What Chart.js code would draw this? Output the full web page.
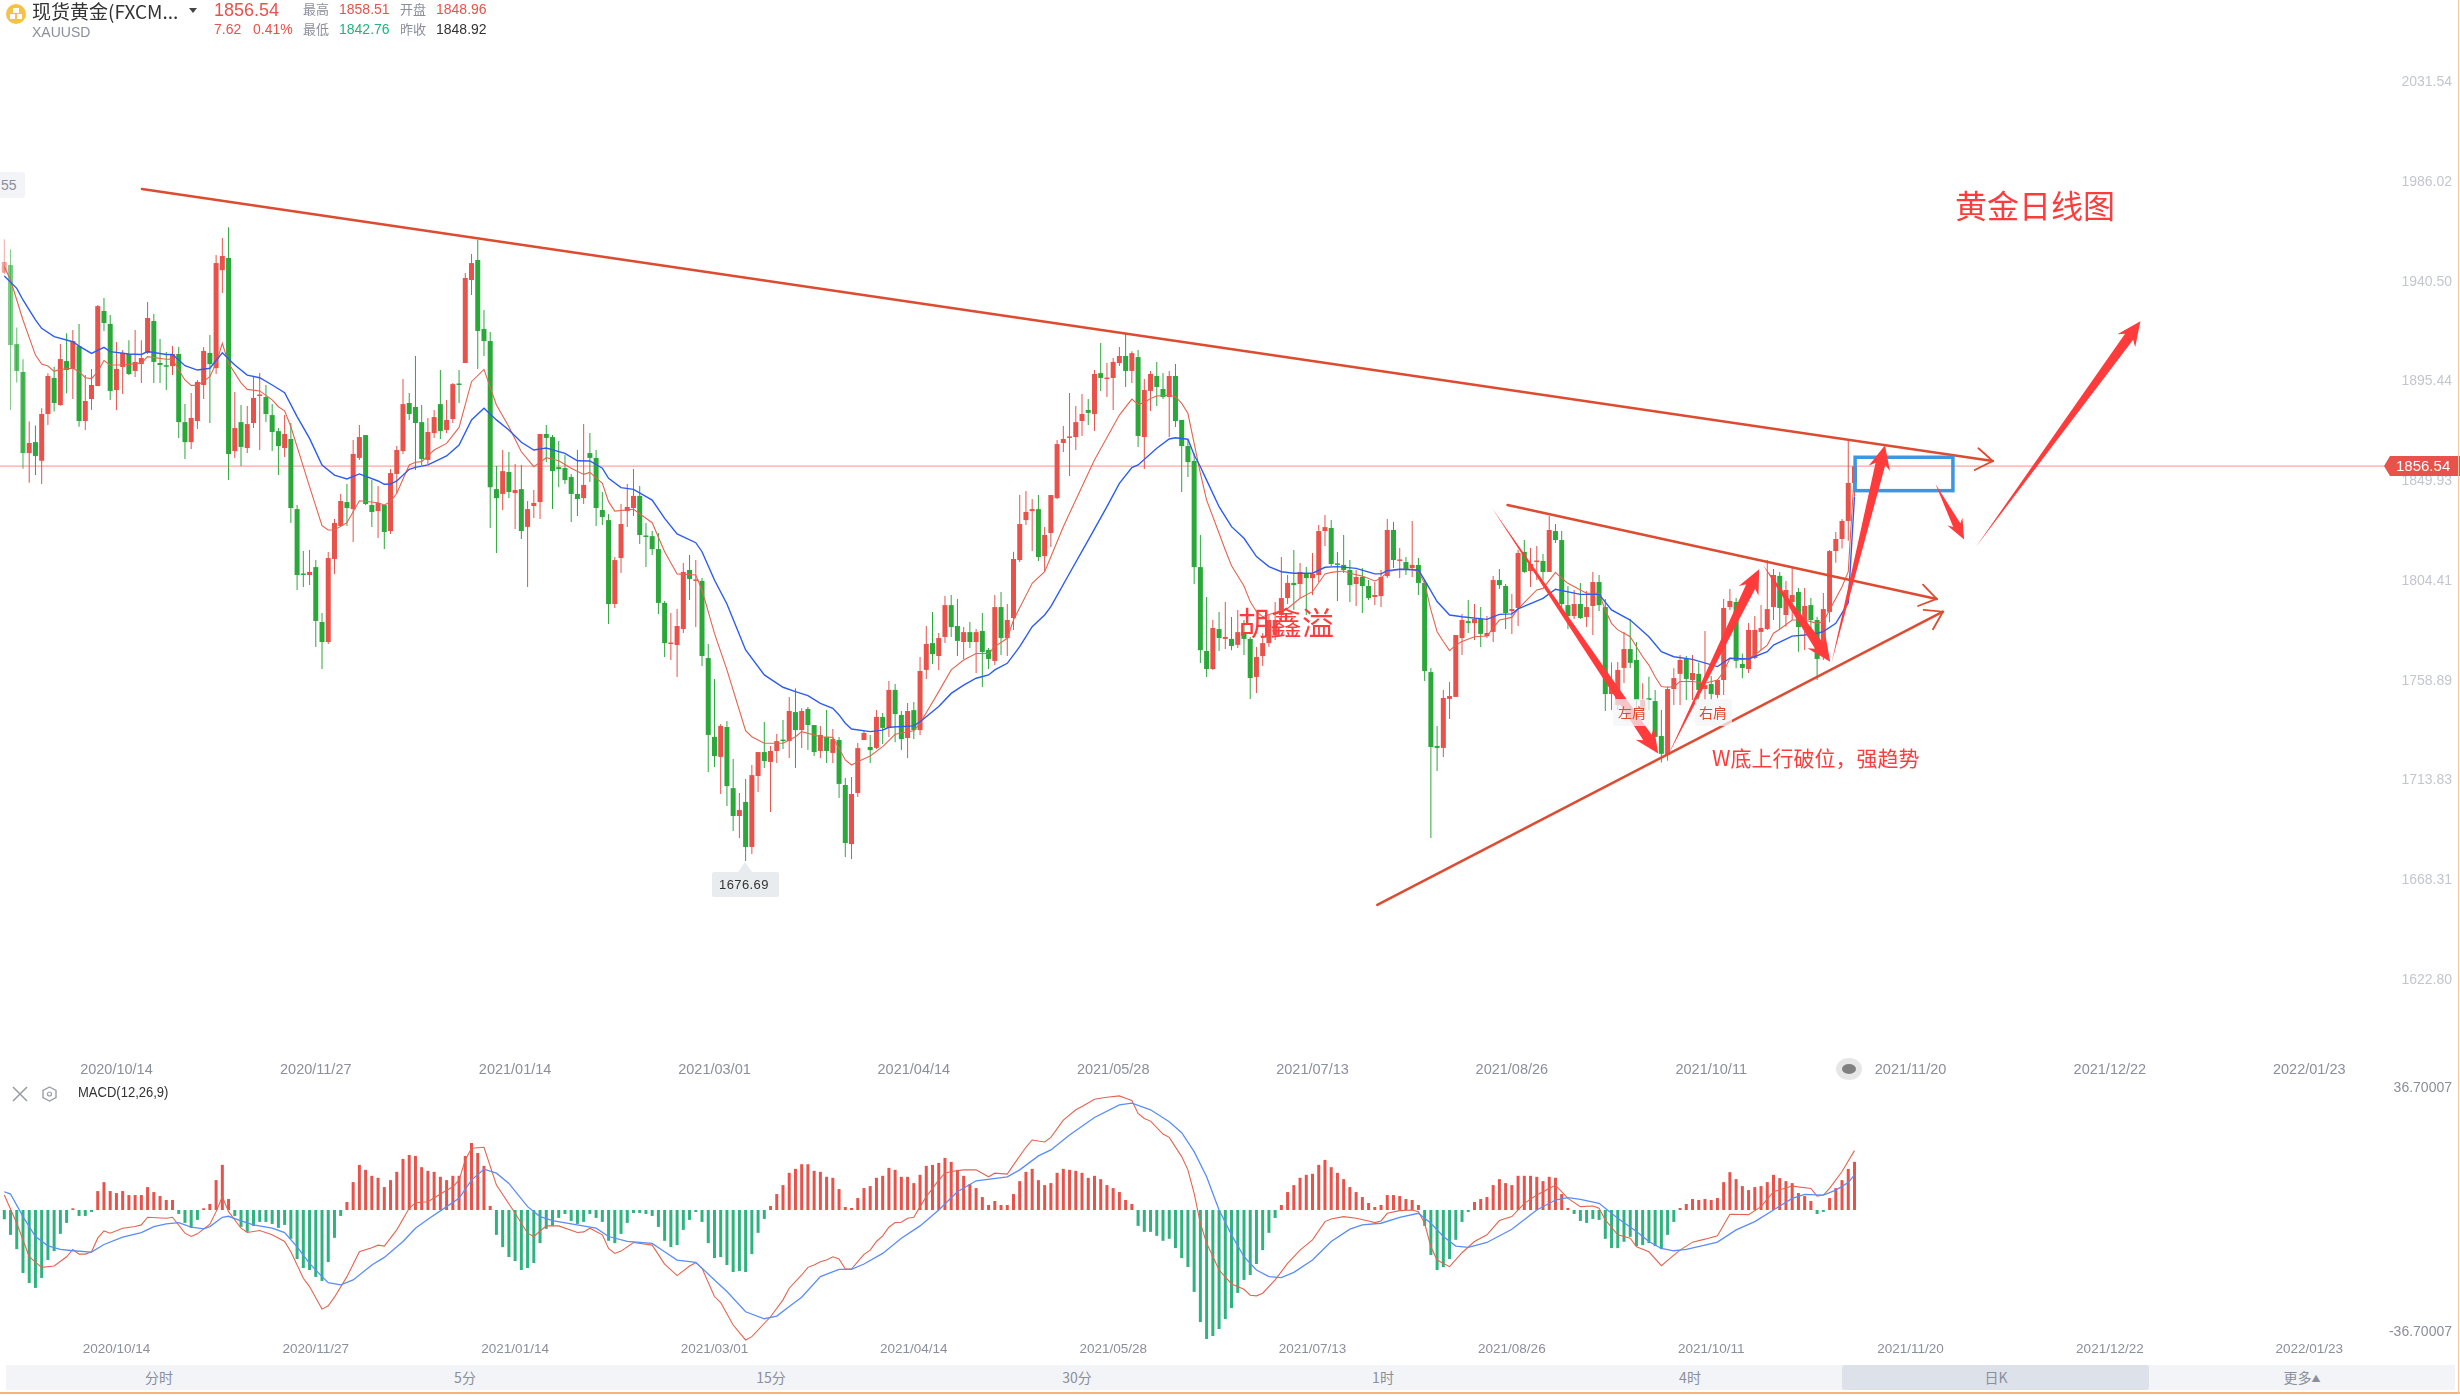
<!DOCTYPE html>
<html>
<head>
<meta charset="utf-8">
<script src="https://cdn.jsdelivr.net/npm/chart.js@4/dist/chart.umd.min.js"></script>
<style>
html,body{margin:0;padding:0;background:#fff;}
#page{position:relative;width:2460px;height:1396px;overflow:hidden;font-family:"Liberation Sans","Noto Sans CJK SC",sans-serif;}
canvas{position:absolute;left:0;}
.t{position:absolute;white-space:nowrap;line-height:1;font-family:"Liberation Sans","Noto Sans CJK SC",sans-serif;}
.gray{color:#8a8f9c;}.red{color:#e8524a;}.green{color:#20b37c;}
.note{color:#ff3b3b;font-family:"Noto Sans CJK SC",sans-serif;}
.tab{position:absolute;top:1365px;height:25px;width:306px;text-align:center;line-height:25px;font-size:14px;color:#8a8f9c;font-family:"Noto Sans CJK SC",sans-serif;}
</style>
</head>
<body>
<div id="page">
<canvas id="price" width="2460" height="1085" style="top:0"></canvas>
<canvas id="macd" width="2460" height="290" style="top:1075px"></canvas>

<div style="position:absolute;left:6px;top:4px;width:20px;height:20px;border-radius:50%;background:#f5c242"></div>
<div style="position:absolute;left:13px;top:8px;width:6px;height:5px;background:#fff"></div>
<div style="position:absolute;left:10px;top:14px;width:5px;height:5px;background:#fff"></div>
<div style="position:absolute;left:17px;top:14px;width:5px;height:5px;background:#fff"></div>
<div class="t" style="left:32px;top:1px;font-size:19px;color:#333;font-family:'Noto Sans CJK SC'">现货黄金(FXCM...</div>
<div style="position:absolute;left:189px;top:8px;border-left:4px solid transparent;border-right:4px solid transparent;border-top:5px solid #444"></div>
<div class="t gray" style="left:32px;top:25px;font-size:14px">XAUUSD</div>
<div class="t red" style="left:214px;top:1px;font-size:18px">1856.54</div>
<div class="t red" style="left:214px;top:22px;font-size:14px">7.62</div>
<div class="t red" style="left:253px;top:22px;font-size:14px">0.41%</div>
<div class="t gray" style="left:303px;top:2px;font-size:13px;font-family:'Noto Sans CJK SC'">最高</div>
<div class="t red" style="left:339px;top:2px;font-size:14px">1858.51</div>
<div class="t gray" style="left:400px;top:2px;font-size:13px;font-family:'Noto Sans CJK SC'">开盘</div>
<div class="t red" style="left:436px;top:2px;font-size:14px">1848.96</div>
<div class="t gray" style="left:303px;top:22px;font-size:13px;font-family:'Noto Sans CJK SC'">最低</div>
<div class="t green" style="left:339px;top:22px;font-size:14px">1842.76</div>
<div class="t gray" style="left:400px;top:22px;font-size:13px;font-family:'Noto Sans CJK SC'">昨收</div>
<div class="t" style="left:436px;top:22px;font-size:14px;color:#333">1848.92</div>

<div style="position:absolute;left:0;top:172px;width:25px;height:26px;background:#f3f4f7;border-radius:0 3px 3px 0"></div>
<div class="t gray" style="left:1px;top:178px;font-size:14px">55</div>

<div style="position:absolute;left:2390px;top:456px;width:70px;height:20px;background:#e8524a"></div>
<div style="position:absolute;left:2384px;top:456px;border-top:10px solid transparent;border-bottom:10px solid transparent;border-right:6px solid #e8524a"></div>
<div class="t" style="left:2396px;top:458px;font-size:15px;color:#fff">1856.54</div>

<div style="position:absolute;left:712px;top:872px;width:67px;height:25px;background:#e9ecef;border-radius:2px"></div>
<div style="position:absolute;left:738px;top:862px;border-left:7px solid transparent;border-right:7px solid transparent;border-bottom:10px solid #e9ecef"></div>
<div class="t" style="left:719px;top:878px;font-size:13px;color:#333;letter-spacing:.4px">1676.69</div>

<div class="t note" style="left:1955px;top:188px;font-size:32px">黄金日线图</div>
<div class="t note" style="left:1238px;top:605px;font-size:32px">胡鑫溢</div>
<div class="t note" style="left:1712px;top:747px;font-size:21px">W底上行破位，强趋势</div>
<div style="position:absolute;left:1613px;top:699px;width:37px;height:27px;background:rgba(243,244,247,.75);border-radius:3px"></div>
<div class="t" style="left:1618px;top:705px;font-size:14px;color:#e2492d;font-family:'Noto Sans CJK SC'">左肩</div>
<div style="position:absolute;left:1695px;top:699px;width:37px;height:27px;background:rgba(243,244,247,.75);border-radius:3px"></div>
<div class="t" style="left:1699px;top:705px;font-size:14px;color:#e2492d;font-family:'Noto Sans CJK SC'">右肩</div>

<div style="position:absolute;left:1836px;top:1058px;width:26px;height:22px;border-radius:50%;background:#e6e6e6"></div>
<div style="position:absolute;left:1842px;top:1064px;width:14px;height:10px;border-radius:50%;background:#808080"></div>

<svg style="position:absolute;left:12px;top:1085px" width="50" height="18">
  <path d="M1 2 L15 16 M15 2 L1 16" stroke="#9a9ea8" stroke-width="1.6" fill="none"/>
  <path d="M37.5 2 L44 5.5 L44 12.5 L37.5 16 L31 12.5 L31 5.5 Z" stroke="#9a9ea8" stroke-width="1.4" fill="none"/>
  <circle cx="37.5" cy="9" r="2" stroke="#9a9ea8" stroke-width="1.2" fill="none"/>
</svg>
<div class="t" style="left:78px;top:1085px;font-size:14px;color:#333;transform:scaleX(.93);transform-origin:left">MACD(12,26,9)</div>

<div style="position:absolute;left:6px;top:1365px;width:2449px;height:25px;background:#f3f4f7"></div>
<div style="position:absolute;left:1842px;top:1365px;width:307px;height:25px;background:#dde1ea;border-radius:3px"></div>
<div class="tab" style="left:6px">分时</div>
<div class="tab" style="left:312px">5分</div>
<div class="tab" style="left:618px">15分</div>
<div class="tab" style="left:924px">30分</div>
<div class="tab" style="left:1230px">1时</div>
<div class="tab" style="left:1537px">4时</div>
<div class="tab" style="left:1843px">日K</div>
<div class="tab" style="left:2149px">更多<span style="font-size:9px;vertical-align:1px">▲</span></div>
<div style="position:absolute;left:0;top:1392px;width:2460px;height:2px;background:#f7b27a"></div>
<div style="position:absolute;left:2458px;top:0;width:1px;height:1394px;background:#f7c8a0"></div>
</div>

<script>
// x axis dates, one label every 32 bars
const dateLabels = ["2020/10/14","2020/11/27","2021/01/14","2021/03/01","2021/04/14","2021/05/28","2021/07/13","2021/08/26","2021/10/11","2021/11/20","2021/12/22","2022/01/23"];
const dateBars = [18,50,82,114,146,178,210,242,274,306,338,370];
const priceTicks = [2031.54,1986.02,1940.50,1895.44,1849.93,1804.41,1758.89,1713.83,1668.31,1622.80];
const macdTicks = [36.70007,-36.70007];
const lastPrice = 1856.54;

// daily candles
const opens = [1944.6,1948.1,1912.1,1899.4,1862.5,1867.5,1859.0,1880.3,1896.7,1884.4,
1904.4,1900.8,1911.2,1877.1,1887.1,1893.0,1927.2,1921.3,1891.2,1901.7,
1907.6,1899.9,1903.0,1908.1,1922.6,1903.5,1902.3,1902.1,1907.6,1876.6,
1867.5,1877.1,1893.5,1908.1,1901.2,1945.8,1951.3,1863.4,1876.6,1864.8,
1876.2,1888.5,1888.0,1879.8,1872.5,1864.8,1868.9,1837.0,1807.5,1807.0,
1810.6,1785.6,1776.5,1814.3,1829.3,1840.2,1837.0,1860.3,1870.7,1838.9,
1836.1,1838.9,1827.0,1853.0,1863.4,1885.3,1883.5,1876.6,1859.4,1871.6,
1884.8,1873.0,1878.0,1893.9,1903.5,1941.3,1950.4,1919.0,1913.5,1846.1,
1843.9,1853.9,1844.3,1846.1,1828.9,1838.4,1840.2,1871.2,1869.8,1856.1,
1855.7,1851.6,1843.9,1842.0,1862.5,1860.3,1836.6,1832.0,1793.8,1814.7,
1836.1,1837.5,1843.0,1824.7,1824.7,1818.8,1794.3,1775.6,1775.1,1782.4,
1809.3,1804.3,1804.3,1769.2,1733.3,1724.2,1737.8,1710.0,1697.3,1703.7,
1683.2,1715.5,1726.4,1721.9,1726.9,1731.9,1731.4,1744.6,1736.4,1746.0,
1738.7,1726.9,1733.3,1726.0,1731.9,1711.4,1684.5,1707.8,1731.9,1728.7,
1728.3,1742.4,1737.4,1754.7,1743.3,1732.8,1745.5,1736.4,1763.8,1776.0,
1770.1,1778.8,1793.3,1783.8,1776.5,1781.0,1776.5,1781.5,1772.9,1767.9,
1792.4,1778.3,1787.4,1813.8,1832.0,1836.1,1837.0,1815.6,1826.1,1842.0,
1867.1,1869.4,1869.8,1877.1,1882.1,1880.3,1898.9,1896.2,1896.7,1903.5,
1906.7,1899.9,1906.2,1869.8,1890.8,1897.6,1891.7,1888.0,1897.6,1877.6,
1865.7,1858.9,1810.6,1772.4,1764.2,1782.4,1777.9,1777.9,1775.2,1781.0,
1777.9,1760.6,1770.1,1776.0,1779.7,1788.8,1796.5,1803.4,1802.9,1807.5,
1805.6,1807.0,1827.0,1828.4,1812.0,1811.6,1809.3,1802.9,1806.1,1802.0,
1797.0,1797.4,1806.5,1827.5,1813.4,1812.9,1810.2,1811.6,1803.4,1762.8,
1729.2,1728.3,1750.6,1751.5,1778.3,1786.0,1785.1,1787.0,1779.2,1781.1,
1804.7,1802.0,1790.6,1792.0,1817.5,1808.8,1812.9,1813.4,1808.4,1827.0,
1822.9,1793.3,1788.3,1793.8,1787.9,1792.9,1803.8,1792.4,1752.8,1747.8,
1764.7,1773.3,1768.3,1745.6,1750.9,1749.6,1733.7,1725.1,1755.1,1762.0,
1768.8,1759.2,1762.0,1755.1,1757.4,1752.4,1759.2,1792.4,1794.7,1766.5,
1764.2,1769.2,1781.1,1782.4,1792.4,1806.6,1788.8,1794.7,1799.3,1783.3,
1793.3,1786.5,1770.6,1790.2,1817.9,1823.4,1831.6,1848.9];
const highs = [1959.8,1955.2,1919.7,1905.2,1876.9,1875.1,1882.9,1898.8,1901.8,1912.2,
1917.0,1918.5,1921.3,1898.0,1900.8,1929.9,1933.1,1925.4,1913.1,1909.4,
1913.9,1918.5,1913.9,1931.3,1925.8,1914.4,1908.5,1911.2,1910.8,1884.8,
1889.8,1895.8,1910.8,1916.2,1952.7,1960.4,1965.3,1890.3,1884.4,1883.9,
1897.1,1898.9,1893.5,1884.8,1873.9,1879.8,1876.2,1838.9,1817.9,1818.4,
1813.8,1789.7,1817.5,1832.5,1843.9,1848.4,1868.4,1875.3,1870.7,1850.2,
1847.5,1838.9,1855.3,1865.7,1896.2,1889.8,1906.7,1884.4,1878.5,1882.1,
1900.3,1886.7,1894.4,1900.3,1944.5,1953.1,1959.5,1927.6,1917.6,1856.6,
1863.9,1863.0,1857.5,1857.1,1840.7,1845.7,1871.2,1875.3,1870.7,1868.0,
1861.6,1853.0,1863.9,1875.7,1871.6,1863.9,1844.8,1834.8,1815.2,1839.3,
1848.4,1855.2,1847.5,1830.7,1827.0,1826.1,1795.2,1789.7,1791.5,1812.5,
1816.1,1813.8,1805.6,1775.6,1759.7,1739.2,1740.5,1723.2,1707.8,1714.1,
1720.5,1726.4,1740.1,1729.2,1734.6,1741.0,1751.5,1755.5,1746.4,1746.9,
1738.7,1738.3,1745.5,1736.9,1733.3,1714.6,1715.0,1730.5,1736.0,1734.2,
1745.5,1744.2,1758.7,1757.4,1745.1,1748.7,1749.2,1769.7,1783.8,1790.2,
1780.6,1797.4,1797.9,1796.1,1783.3,1785.6,1782.4,1789.7,1773.8,1797.9,
1799.3,1793.8,1817.6,1843.4,1845.2,1841.6,1843.4,1828.9,1843.4,1868.5,
1874.8,1889.9,1883.9,1889.4,1887.1,1900.3,1912.6,1903.5,1905.8,1910.8,
1916.7,1908.9,1909.4,1896.2,1899.9,1904.0,1899.0,1899.9,1903.1,1877.6,
1868.5,1862.5,1825.2,1797.0,1786.5,1790.2,1794.7,1787.9,1791.1,1786.5,
1778.8,1774.2,1780.5,1788.8,1794.7,1815.2,1807.0,1818.4,1812.5,1810.6,
1817.0,1829.8,1834.3,1832.0,1817.5,1825.2,1813.8,1809.3,1810.2,1804.7,
1803.8,1809.3,1832.5,1831.1,1819.3,1815.2,1831.6,1814.7,1804.7,1764.7,
1738.3,1754.7,1758.3,1779.7,1789.3,1795.6,1793.8,1792.4,1788.3,1806.5,
1809.7,1802.9,1798.4,1818.4,1822.9,1819.3,1820.2,1816.6,1833.9,1830.2,
1827.0,1802.0,1800.2,1803.4,1799.7,1808.4,1807.0,1796.1,1767.2,1767.4,
1781.1,1787.0,1776.5,1757.7,1760.7,1754.7,1745.6,1756.2,1764.5,1770.6,
1770.1,1770.6,1767.2,1781.5,1761.0,1759.7,1796.1,1800.6,1796.5,1771.3,
1785.2,1788.3,1793.3,1813.8,1809.7,1808.4,1804.3,1810.2,1801.1,1801.1,
1796.5,1788.0,1798.8,1818.4,1826.6,1832.5,1868.0,1858.5];
const lows = [1944.0,1882.1,1894.6,1855.4,1849.0,1852.5,1848.4,1875.3,1881.4,1884.1,
1889.7,1887.1,1874.5,1873.0,1882.1,1893.0,1918.1,1886.7,1882.1,1889.4,
1898.0,1897.1,1894.4,1907.6,1894.4,1894.4,1891.2,1898.0,1869.4,1859.8,
1864.4,1873.5,1887.1,1876.2,1898.5,1935.4,1850.2,1860.3,1856.6,1862.5,
1873.9,1863.9,1876.6,1863.4,1852.5,1860.7,1830.7,1800.2,1801.5,1802.4,
1774.2,1764.2,1775.6,1807.5,1828.9,1829.3,1822.0,1859.4,1838.9,1828.9,
1823.8,1818.8,1825.7,1844.3,1862.1,1877.6,1854.8,1857.1,1857.5,1869.4,
1868.9,1871.6,1876.2,1885.3,1903.5,1934.5,1900.8,1906.7,1828.4,1817.0,
1836.6,1842.0,1827.9,1823.4,1801.5,1832.9,1832.5,1858.4,1837.0,1847.0,
1848.4,1831.1,1833.9,1839.3,1849.3,1829.3,1829.8,1784.7,1792.0,1807.9,
1828.8,1833.9,1821.1,1810.6,1816.1,1789.2,1769.7,1768.3,1760.6,1780.6,
1795.6,1783.3,1765.6,1717.3,1719.6,1707.3,1701.8,1690.5,1687.3,1676.8,
1680.0,1708.2,1719.2,1699.1,1721.4,1727.8,1723.7,1719.2,1728.2,1727.3,
1724.6,1723.7,1721.4,1721.4,1705.5,1678.6,1677.7,1705.9,1731.9,1721.4,
1727.8,1730.1,1733.3,1730.9,1727.3,1723.7,1732.3,1734.2,1759.7,1766.5,
1763.8,1776.0,1778.8,1770.1,1768.8,1773.8,1762.4,1756.0,1764.2,1766.0,
1770.6,1770.1,1782.0,1812.9,1829.8,1817.9,1813.4,1808.8,1819.7,1841.6,
1863.0,1852.1,1863.9,1870.3,1875.3,1872.5,1890.8,1888.0,1882.1,1902.1,
1892.6,1894.4,1865.3,1855.3,1881.7,1883.9,1887.1,1869.8,1874.4,1844.8,
1851.6,1802.9,1766.9,1760.6,1763.8,1772.4,1773.3,1772.8,1773.8,1770.6,
1750.6,1753.3,1765.6,1774.2,1777.4,1786.5,1793.8,1791.1,1796.5,1788.8,
1797.9,1803.8,1820.2,1811.1,1795.2,1807.9,1794.7,1792.9,1789.7,1795.6,
1793.3,1792.4,1805.6,1810.2,1805.6,1807.0,1806.1,1797.9,1758.8,1687.3,
1717.8,1724.2,1741.5,1751.5,1770.6,1780.6,1777.4,1774.2,1778.3,1776.5,
1800.6,1782.4,1780.2,1783.8,1807.9,1801.5,1804.7,1804.7,1808.4,1821.6,
1791.5,1782.4,1787.0,1787.0,1783.3,1779.7,1790.6,1745.1,1745.6,1745.6,
1757.8,1764.7,1745.6,1743.3,1745.6,1733.3,1721.6,1722.4,1747.8,1747.8,
1750.1,1750.1,1750.1,1750.1,1750.1,1750.9,1752.4,1791.1,1764.5,1760.0,
1762.4,1768.8,1772.9,1782.0,1786.5,1782.4,1783.5,1786.5,1772.1,1772.9,
1777.4,1759.2,1768.3,1785.5,1812.6,1819.1,1822.6,1842.8];
const closes = [1949.5,1911.7,1899.9,1862.5,1867.1,1861.2,1880.3,1897.6,1885.3,1905.3,
1900.3,1913.5,1877.1,1886.2,1893.5,1929.4,1921.7,1890.8,1900.8,1908.1,
1898.5,1904.0,1905.8,1924.0,1904.0,1902.6,1901.8,1907.6,1876.6,1867.5,
1878.5,1894.9,1909.0,1903.0,1949.0,1952.2,1862.1,1873.9,1865.3,1875.7,
1887.6,1888.9,1880.3,1872.1,1865.7,1871.2,1837.5,1807.0,1807.0,1808.4,
1786.1,1776.5,1814.7,1830.7,1840.7,1837.5,1862.1,1869.8,1839.3,1835.7,
1839.8,1826.6,1853.4,1863.9,1884.8,1880.3,1876.2,1859.8,1872.1,1878.9,
1872.5,1877.6,1893.9,1893.5,1942.2,1949.0,1918.1,1913.5,1847.0,1842.0,
1854.3,1844.8,1845.7,1827.0,1837.0,1839.8,1871.2,1869.4,1854.3,1855.2,
1850.2,1843.9,1841.6,1848.0,1860.3,1837.5,1833.4,1793.8,1813.8,1830.2,
1838.0,1843.0,1825.2,1824.3,1818.8,1794.3,1776.0,1776.0,1783.8,1808.4,
1805.2,1804.7,1770.1,1734.2,1724.6,1738.3,1710.9,1697.3,1700.0,1683.2,
1715.9,1726.4,1722.3,1726.9,1731.4,1731.4,1745.1,1736.4,1745.1,1738.7,
1726.4,1734.2,1726.9,1732.3,1711.9,1685.0,1707.3,1728.2,1735.1,1727.3,
1742.4,1737.4,1754.7,1743.7,1732.3,1745.1,1736.4,1763.3,1775.6,1771.0,
1778.3,1793.3,1783.3,1777.0,1781.0,1776.5,1781.0,1771.9,1768.8,1792.4,
1778.3,1786.5,1814.3,1830.2,1835.7,1837.0,1815.2,1825.2,1843.4,1866.6,
1868.9,1869.8,1876.6,1880.3,1880.8,1898.5,1896.7,1896.7,1904.0,1906.7,
1899.9,1908.0,1870.3,1891.2,1898.5,1892.6,1888.0,1897.6,1877.1,1865.7,
1858.4,1810.6,1772.8,1764.2,1782.9,1778.3,1778.8,1774.7,1781.0,1777.9,
1760.1,1769.7,1776.0,1786.5,1786.5,1796.5,1803.4,1802.4,1808.4,1805.6,
1807.5,1827.0,1828.8,1812.0,1811.6,1809.3,1802.4,1806.1,1802.0,1796.5,
1797.9,1806.1,1827.5,1813.8,1813.8,1809.7,1811.6,1803.4,1763.3,1728.7,
1728.3,1751.0,1751.9,1779.7,1786.5,1785.1,1787.0,1780.2,1780.6,1804.7,
1802.4,1789.7,1791.5,1817.0,1808.4,1812.0,1813.4,1808.4,1827.5,1822.9,
1793.8,1788.3,1793.8,1787.4,1792.4,1803.8,1793.3,1752.8,1756.2,1763.8,
1773.3,1767.0,1750.1,1750.1,1750.1,1733.3,1725.6,1755.1,1760.1,1768.3,
1759.7,1762.4,1754.7,1756.9,1752.8,1759.2,1792.0,1795.2,1767.9,1764.7,
1782.0,1782.0,1782.9,1791.5,1807.0,1792.0,1800.2,1797.9,1783.3,1792.9,
1786.5,1768.8,1791.5,1817.9,1823.4,1831.6,1848.9,1856.5];

// moving averages, [bar, price] at the corners
const maFast = [[0,1947.4],[1,1941.3],[3,1923.1],[5,1907.1],[6,1903.0],[7,1902.1],[8,1899.7],[9,1900.6],[11,1901.1],[12,1899.6],[13,1896.8],[14,1896.4],[15,1899.6],[16,1904.6],[17,1902.6],[19,1902.6],[22,1903.4],[23,1906.4],[26,1905.2],[27,1905.3],[28,1900.3],[29,1895.8],[30,1893.3],[31,1893.3],[33,1897.3],[34,1903.4],[35,1912.5],[36,1903.4],[38,1894.5],[39,1891.5],[41,1890.8],[43,1886.7],[44,1883.6],[45,1881.7],[46,1874.5],[48,1856.3],[49,1847.2],[51,1829.5],[52,1827.5],[53,1827.5],[55,1830.8],[56,1835.8],[57,1840.8],[60,1839.9],[61,1838.9],[62,1840.4],[63,1844.2],[65,1857.1],[66,1858.3],[67,1858.6],[69,1863.9],[71,1866.9],[73,1874.2],[75,1895.0],[77,1900.6],[79,1884.4],[81,1874.5],[83,1863.1],[85,1856.3],[87,1860.4],[89,1859.0],[91,1855.6],[93,1852.8],[94,1853.7],[96,1848.7],[97,1840.4],[98,1836.1],[101,1836.9],[104,1830.8],[106,1817.6],[108,1807.5],[111,1807.0],[112,1800.2],[114,1780.4],[116,1763.8],[119,1736.1],[120,1733.4],[122,1730.4],[125,1730.4],[127,1733.4],[128,1735.7],[131,1733.4],[133,1733.1],[135,1722.8],[136,1720.5],[137,1722.0],[139,1724.6],[141,1728.9],[143,1734.5],[146,1736.1],[147,1739.5],[150,1753.9],[152,1763.8],[154,1768.3],[156,1771.3],[158,1771.3],[159,1774.4],[161,1778.2],[162,1786.5],[165,1803.2],[167,1808.5],[168,1815.3],[170,1829.0],[171,1835.1],[174,1853.3],[175,1859.4],[179,1879.8],[181,1887.1],[182,1884.7],[183,1885.4],[184,1887.4],[185,1888.5],[187,1888.9],[188,1888.2],[189,1885.1],[190,1880.6],[191,1866.9],[192,1853.3],[193,1841.1],[195,1826.0],[196,1818.4],[197,1811.2],[199,1802.0],[200,1794.9],[201,1790.3],[202,1788.0],[206,1791.8],[208,1796.4],[210,1799.4],[212,1807.5],[213,1808.2],[215,1808.8],[216,1807.8],[218,1806.5],[220,1804.3],[221,1805.5],[222,1808.5],[224,1809.6],[226,1809.6],[227,1808.5],[228,1803.2],[229,1791.1],[230,1781.2],[231,1776.7],[232,1772.6],[233,1775.1],[234,1776.7],[236,1778.9],[238,1779.2],[240,1786.5],[242,1787.7],[243,1791.6],[246,1800.2],[247,1800.9],[249,1808.2],[250,1805.5],[251,1803.2],[253,1800.2],[254,1798.7],[256,1798.7],[257,1791.1],[258,1785.0],[259,1782.0],[260,1780.5],[261,1778.9],[263,1769.8],[264,1766.0],[265,1760.7],[266,1756.2],[267,1755.9],[268,1756.2],[269,1758.5],[271,1758.5],[273,1757.7],[275,1759.2],[276,1763.0],[277,1769.1],[279,1768.6],[280,1769.1],[281,1770.6],[283,1775.1],[284,1780.5],[285,1782.3],[287,1786.5],[289,1786.5],[291,1785.0],[292,1785.8],[293,1791.1],[295,1801.7],[296,1808.5],[297,1854.8]];
const maSlow = [[0,1943.1],[2,1937.5],[3,1932.2],[5,1923.1],[6,1919.3],[8,1915.5],[11,1913.2],[12,1911.2],[14,1907.9],[16,1910.6],[17,1908.7],[20,1907.6],[22,1907.4],[23,1908.7],[26,1907.4],[27,1907.4],[29,1902.3],[31,1900.3],[33,1901.1],[35,1908.2],[37,1902.6],[39,1898.0],[41,1896.8],[43,1893.5],[45,1890.0],[47,1879.1],[49,1869.2],[51,1857.1],[53,1852.5],[55,1850.7],[57,1853.0],[60,1849.8],[61,1848.3],[62,1848.4],[63,1849.8],[65,1855.1],[66,1856.0],[68,1857.1],[71,1861.2],[73,1866.2],[75,1877.6],[77,1882.9],[79,1877.6],[81,1873.0],[83,1867.4],[85,1863.9],[87,1864.8],[90,1862.4],[92,1859.0],[94,1858.9],[96,1855.6],[97,1851.0],[99,1846.8],[101,1846.0],[104,1841.1],[106,1832.8],[108,1825.7],[111,1821.7],[112,1817.6],[114,1804.7],[116,1793.8],[119,1772.9],[122,1761.5],[125,1755.9],[127,1753.9],[129,1752.1],[131,1748.6],[133,1746.3],[134,1743.3],[135,1739.5],[136,1736.9],[139,1735.7],[141,1736.4],[142,1737.7],[146,1738.3],[147,1740.2],[150,1747.1],[152,1753.1],[154,1756.9],[156,1760.0],[158,1761.5],[159,1763.8],[161,1766.8],[163,1774.4],[165,1783.5],[167,1788.8],[168,1792.6],[171,1807.8],[174,1822.9],[177,1838.1],[179,1848.7],[181,1855.9],[182,1857.1],[185,1864.7],[187,1868.9],[188,1869.5],[190,1868.8],[191,1861.6],[192,1856.3],[193,1850.2],[195,1838.1],[197,1829.0],[199,1823.7],[201,1815.4],[203,1810.8],[205,1808.5],[207,1807.8],[210,1807.8],[212,1810.5],[214,1810.8],[217,1810.0],[220,1807.5],[221,1807.5],[222,1809.0],[224,1809.6],[227,1809.3],[228,1804.7],[230,1794.9],[232,1788.8],[234,1788.0],[238,1786.8],[240,1789.1],[242,1789.3],[243,1791.6],[247,1796.4],[249,1800.5],[253,1798.2],[256,1798.2],[258,1791.1],[261,1786.5],[264,1778.9],[266,1772.1],[268,1769.8],[271,1768.6],[275,1765.3],[277,1769.1],[280,1768.8],[283,1772.1],[284,1775.1],[287,1779.2],[289,1779.7],[291,1780.5],[292,1781.2],[294,1785.0],[296,1794.4],[297,1842.7]];

const macdHist = [-2.8,-7.5,-11.8,-19.0,-22.0,-23.5,-20.5,-15.1,-12.4,-7.2,-3.9,0.5,-1.8,-1.8,-0.6,5.7,8.4,5.7,5.1,5.7,4.5,4.5,4.5,6.9,5.4,4.2,3.0,3.0,-1.2,-3.9,-5.4,-3.0,0.5,1.8,9.0,13.6,3.3,-1.8,-5.1,-6.6,-4.8,-3.6,-3.6,-4.2,-5.4,-4.5,-8.7,-14.8,-17.5,-18.1,-20.2,-21.4,-15.7,-8.4,-1.8,2.4,8.4,13.6,12.1,10.3,9.7,6.9,9.0,11.5,15.4,16.6,16.3,12.9,11.8,11.5,10.0,9.0,10.3,10.3,16.3,20.2,17.2,13.3,1.2,-7.5,-11.2,-14.2,-15.4,-18.1,-17.5,-16.0,-10.0,-5.7,-4.8,-2.4,-1.2,-3.3,-4.2,-3.6,-1.2,-2.4,-3.6,-9.3,-10.0,-7.2,-3.9,-0.9,-0.9,-1.2,-1.8,-5.1,-9.3,-11.2,-10.6,-6.0,-3.0,-0.6,-3.6,-10.0,-14.5,-14.2,-16.6,-18.7,-18.4,-18.7,-13.3,-6.9,-2.7,1.2,4.8,7.5,11.2,12.4,
13.8,13.8,11.8,11.5,10.0,9.7,6.3,0.9,0.6,3.6,6.6,7.2,9.7,10.3,12.7,12.1,10.0,10.0,8.1,10.6,13.3,13.6,14.2,15.7,14.5,12.1,10.3,7.8,6.6,3.9,1.5,2.7,1.5,1.5,4.8,8.7,11.5,12.4,9.0,7.5,8.1,11.2,12.4,12.1,11.8,11.2,9.7,10.3,9.3,7.5,6.6,5.4,3.0,1.8,-4.8,-6.6,-6.6,-7.8,-9.3,-8.7,-11.5,-14.5,-17.2,-24.7,-33.8,-38.9,-38.0,-35.9,-32.9,-29.6,-25.0,-21.1,-19.6,-16.3,-12.1,-6.9,-2.4,1.5,5.4,7.5,9.7,10.6,10.9,13.6,15.1,12.9,11.2,9.3,6.9,5.4,3.9,2.1,0.9,1.5,4.5,4.5,4.2,3.3,3.0,1.5,-4.8,-13.6,-18.1,-17.2,-14.8,-9.0,-3.6,-0.6,2.4,3.3,3.9,7.5,9.3,8.1,7.5,10.3,10.3,10.3,10.0,8.7,10.0,9.7,4.8,0.6,-1.2,-3.3,-3.9,-2.7,-3.0,
-8.7,-11.5,-11.5,-9.6,-8.1,-10.9,-10.6,-10.0,-10.9,-11.8,-7.5,-3.6,0.6,1.8,3.3,3.0,3.3,3.0,3.6,8.4,11.4,9.3,7.2,6.0,6.9,7.2,8.4,10.6,9.6,8.7,8.1,5.1,4.2,2.7,-1.2,-0.6,3.6,6.6,9.0,12.4,14.5];
const macdDif = [[0,4.5],[2,-4.0],[4,-14.1],[6,-17.3],[8,-16.9],[10,-14.1],[11,-11.9],[12,-13.3],[13,-13.3],[14,-12.6],[15,-8.5],[16,-6.3],[17,-7.0],[19,-5.5],[21,-5.0],[22,-4.5],[23,-2.2],[26,-2.5],[27,-2.2],[29,-7.0],[30,-8.0],[31,-7.2],[33,-4.3],[34,-0.5],[35,4.0],[36,-0.5],[38,-5.5],[39,-6.8],[41,-6.2],[43,-7.5],[45,-9.5],[46,-12.6],[48,-20.6],[49,-23.1],[51,-29.9],[52,-28.9],[53,-26.3],[55,-20.1],[57,-12.6],[59,-11.4],[60,-10.6],[61,-10.9],[63,-6.0],[65,0.5],[66,2.2],[68,2.5],[70,4.8],[72,7.0],[73,9.0],[74,15.1],[75,18.6],[77,18.9],[79,7.5],[82,-1.0],[84,-7.0],[85,-8.0],[87,-4.8],[89,-4.8],[92,-6.8],[93,-6.6],[94,-5.5],[96,-7.5],[97,-11.6],[98,-13.1],[99,-12.4],[101,-9.8],[104,-10.6],[106,-16.3],[108,-19.8],[110,-16.9],[111,-15.9],[112,-17.6],[114,-26.1],[115,-27.9],[117,-34.7],[119,-39.2],[120,-38.2],[123,-32.2],[125,-27.1],[126,-23.6],[128,-19.6],[129,-17.3],[130,-16.6],[131,-15.6],[132,-15.1],[133,-14.1],[134,-14.8],[135,-17.8],[136,-17.8],[137,-15.6],[138,-13.4],[139,-12.1],[140,-9.5],[141,-7.8],[142,-5.2],[143,-3.8],[144,-3.7],[145,-2.5],[146,-2.2],[147,1.0],[148,4.0],[149,6.5],[150,9.0],[151,11.1],[152,11.6],[154,12.1],[156,12.1],[158,10.0],[159,11.1],[161,10.8],[162,13.6],[164,18.9],[165,21.1],[167,20.5],[168,21.9],[170,27.1],[172,30.2],[173,31.2],[175,33.4],[177,34.0],[179,34.4],[180,33.7],[181,33.0],[182,29.1],[183,27.6],[184,26.8],[186,22.9],[187,21.9],[189,16.1],[190,12.1],[191,5.0],[192,-4.0],[193,-10.0],[195,-18.1],[197,-22.3],[199,-23.9],[200,-25.7],[201,-25.9],[202,-25.1],[204,-21.1],[206,-16.1],[208,-12.1],[210,-9.0],[212,-3.5],[213,-2.7],[215,-2.0],[217,-2.5],[219,-3.3],[220,-3.8],[221,-3.3],[222,-1.0],[224,-0.2],[226,0],[227,-0.5],[228,-4.0],[229,-11.1],[230,-15.1],[232,-17.1],[234,-12.9],[236,-9.5],[238,-7.5],[240,-3.2],[242,-2.0],[244,2.0],[246,4.5],[248,6.5],[249,7.5],[251,3.5],[253,1.0],[255,1.2],[256,0.5],[257,-3.0],[259,-7.5],[261,-8.5],[262,-11.1],[264,-12.6],[266,-16.8],[268,-13.6],[269,-12.1],[271,-9.7],[273,-8.8],[275,-7.8],[277,-1.3],[280,-1.4],[282,1.0],[284,5.5],[287,7.2],[290,6.5],[291,4.2],[292,4.5],[293,6.5],[295,11.6],[297,17.9]];
const macdDea = [[0,5.5],[1,4.8],[3,-2.0],[5,-8.0],[7,-10.8],[9,-11.9],[11,-12.3],[14,-12.7],[16,-10.4],[19,-8.2],[22,-6.8],[24,-5.0],[26,-4.2],[28,-3.8],[30,-5.2],[32,-5.7],[33,-5.0],[35,-2.2],[36,-1.9],[38,-3.3],[40,-4.5],[43,-5.5],[45,-6.8],[47,-11.1],[49,-16.1],[51,-20.1],[52,-21.9],[54,-22.6],[56,-21.1],[59,-16.6],[61,-14.3],[64,-9.5],[66,-5.5],[68,-2.8],[71,1.0],[73,3.5],[75,9.0],[77,12.3],[79,11.1],[81,8.0],[84,1.0],[86,-2.0],[88,-3.2],[91,-4.2],[95,-5.5],[97,-8.0],[100,-9.5],[104,-10.1],[106,-12.6],[108,-15.1],[111,-15.8],[114,-21.1],[116,-24.6],[119,-30.7],[122,-32.8],[124,-32.0],[126,-29.1],[128,-26.3],[131,-20.1],[134,-17.9],[136,-17.9],[138,-16.3],[141,-13.1],[144,-8.5],[147,-4.8],[150,0],[153,5.5],[156,8.8],[161,10.0],[163,12.1],[166,16.3],[168,18.1],[171,22.6],[175,27.9],[179,31.7],[181,32.2],[184,30.2],[187,26.6],[189,23.3],[191,17.6],[193,10.0],[195,0],[197,-7.5],[199,-14.1],[201,-18.1],[203,-20.1],[205,-20.4],[207,-18.8],[210,-15.1],[213,-9.5],[216,-5.8],[218,-4.5],[221,-4.0],[224,-2.2],[227,-1.0],[229,-4.0],[231,-8.0],[233,-10.9],[235,-11.3],[238,-9.8],[242,-5.8],[246,0],[249,3.0],[251,3.7],[253,3.2],[256,2.0],[259,-2.5],[262,-6.5],[264,-9.5],[266,-11.6],[268,-12.3],[270,-11.9],[273,-10.6],[275,-9.7],[278,-6.0],[281,-3.5],[284,0],[287,3.5],[289,4.7],[292,4.5],[294,6.0],[296,8.3],[297,10.6]];

// hand drawn marks on the picture, [bar, price]
const trendTop = [[22.1,1982.7],[319.2,1858.9]];
const trendTopHead = [[316.9,1864.7],[319.2,1858.9],[316.3,1854.8]];
const trendMid = [[241.3,1838.9],[310.2,1796.1]];
const trendMidHead = [[308.0,1802.6],[310.2,1796.1],[307.2,1792.9]];
const trendLow = [[220.4,1656.8],[311.2,1790.3]];
const trendLowHead = [[308.1,1791.1],[311.2,1790.3],[309.6,1782.3]];
const boxCorners = [[297.1,1860.6],[312.8,1845.4]];
// tail then tip
const arrows = [
  [[238.8,1837.5],[265.5,1725.8]],
  [[267.1,1725.1],[281.7,1809.6]],
  [[282.3,1811.6],[293.1,1767.5]],
  [[293.3,1766.8],[301.9,1866.1]],
  [[310.0,1848.4],[314.6,1823.2]],
  [[316.5,1819.9],[342.9,1922.5]]
];

const RED = "#e8524a";
const GREEN = "#2aa83a";
const MACD_GREEN = "#2fb37e";
const barIdx = closes.map((c, i) => i);
const xMin = -0.69;
const xMax = 394.2;
const fade = [0.5, 0.6, 0.75, 0.85];
const pts = (list) => list.map((p) => ({ x: p[0], y: p[1] }));

function candleColor(ctx) {
  const i = ctx.dataIndex;
  const col = closes[i] >= opens[i] ? RED : GREEN;
  if (i < fade.length) {
    const a = Math.round(fade[i] * 255).toString(16).padStart(2, "0");
    return col + a;
  }
  return col;
}

Chart.defaults.font.family = '"Liberation Sans", Arial, sans-serif';
Chart.defaults.animation = false;
Chart.defaults.responsive = false;
Chart.defaults.devicePixelRatio = 1;

const drawMarks = {
  id: "drawMarks",
  afterDatasetsDraw(chart) {
    const c = chart.ctx;
    const px = (p) => [chart.scales.x.getPixelForValue(p[0]), chart.scales.y.getPixelForValue(p[1])];

    c.save();
    c.lineCap = "round";
    c.lineJoin = "miter";
    c.strokeStyle = "#dd4b30";
    const poly = (list, w) => {
      c.lineWidth = w;
      c.beginPath();
      list.forEach((p, i) => {
        const q = px(p);
        if (i === 0) c.moveTo(q[0], q[1]);
        else c.lineTo(q[0], q[1]);
      });
      c.stroke();
    };
    poly(trendTop, 2.5);
    poly(trendTopHead, 1.8);
    poly(trendMid, 2.5);
    poly(trendMidHead, 1.8);
    poly(trendLow, 2.5);
    poly(trendLowHead, 1.8);

    // blue box
    const a = px(boxCorners[0]);
    const b = px(boxCorners[1]);
    c.strokeStyle = "#3b97e3";
    c.lineWidth = 3.5;
    c.strokeRect(a[0], a[1], b[0] - a[0], b[1] - a[1]);

    // tapered arrows
    c.fillStyle = "#ff3b3b";
    arrows.forEach((ar) => {
      const t = px(ar[0]);
      const h = px(ar[1]);
      const dx = h[0] - t[0];
      const dy = h[1] - t[1];
      const len = Math.hypot(dx, dy);
      const ux = dx / len;
      const uy = dy / len;
      const nx = -uy;
      const ny = ux;
      const small = len < 100;
      const neck = small ? 4 : 5;
      const wing = small ? 8.5 : 11;
      const head = small ? 20 : 24;
      const nb = [h[0] - ux * head * 0.8, h[1] - uy * head * 0.8];
      const wb = [h[0] - ux * head, h[1] - uy * head];
      c.beginPath();
      c.moveTo(t[0], t[1]);
      c.lineTo(nb[0] + nx * neck, nb[1] + ny * neck);
      c.lineTo(wb[0] + nx * wing, wb[1] + ny * wing);
      c.lineTo(h[0], h[1]);
      c.lineTo(wb[0] - nx * wing, wb[1] - ny * wing);
      c.lineTo(nb[0] - nx * neck, nb[1] - ny * neck);
      c.closePath();
      c.fill();
    });
    c.restore();
  }
};

new Chart(document.getElementById("price"), {
  type: "bar",
  plugins: [drawMarks],
  data: {
    datasets: [
      {
        label: "last",
        type: "line",
        data: [{ x: xMin, y: lastPrice }, { x: xMax, y: lastPrice }],
        borderColor: "#f9a8a2",
        borderWidth: 1.2,
        pointRadius: 0,
        order: 3
      },
      {
        label: "wick",
        data: barIdx.map((i) => ({ x: i, y: [lows[i], highs[i]] })),
        backgroundColor: candleColor,
        barThickness: 1,
        grouped: false,
        inflateAmount: 0,
        order: 2
      },
      {
        label: "body",
        data: barIdx.map((i) => ({ x: i, y: [Math.min(opens[i], closes[i]), Math.max(opens[i], closes[i])] })),
        backgroundColor: candleColor,
        barThickness: 5,
        minBarLength: 1.5,
        grouped: false,
        inflateAmount: 0,
        order: 1
      },
      { label: "ma slow", type: "line", data: pts(maSlow), borderColor: "#2d5cf5", borderWidth: 1.4, pointRadius: 0, order: 0 },
      { label: "ma fast", type: "line", data: pts(maFast), borderColor: "#e4644f", borderWidth: 1.1, pointRadius: 0, order: 0 }
    ]
  },
  options: {
    layout: { padding: 0 },
    plugins: { legend: { display: false }, tooltip: { enabled: false } },
    scales: {
      x: {
        type: "linear",
        offset: false,
        bounds: "data",
        min: xMin,
        max: xMax,
        grid: { display: false, drawTicks: false },
        border: { display: false },
        afterBuildTicks: (s) => { s.ticks = dateBars.map((v) => ({ value: v })); },
        afterFit: (s) => { s.height = 30; },
        ticks: {
          autoSkip: false,
          maxRotation: 0,
          padding: 6,
          color: "#8a8f9c",
          font: { size: 14.5 },
          callback: (v, i) => dateLabels[i]
        }
      },
      y: {
        type: "linear",
        position: "right",
        min: 1588.5,
        max: 2068.75,
        grid: { display: false, drawTicks: false },
        border: { display: false },
        afterBuildTicks: (s) => { s.ticks = priceTicks.map((v) => ({ value: v })); },
        afterFit: (s) => { s.width = 0; s.paddingTop = 0; s.paddingBottom = 0; },
        ticks: {
          mirror: true,
          padding: -8,
          color: "#c3c6cf",
          font: { size: 14 },
          callback: (v) => v.toFixed(2)
        }
      }
    }
  }
});

new Chart(document.getElementById("macd"), {
  type: "bar",
  data: {
    datasets: [
      {
        label: "hist",
        data: barIdx.map((i) => ({ x: i, y: [0, macdHist[i]] })),
        backgroundColor: (ctx) => (macdHist[ctx.dataIndex] >= 0 ? RED : MACD_GREEN),
        barThickness: 3,
        inflateAmount: 0,
        clip: false,
        order: 1
      },
      { label: "dea", type: "line", data: pts(macdDea), borderColor: "#5a8dfb", borderWidth: 1.3, pointRadius: 0, clip: false, order: 0 },
      { label: "dif", type: "line", data: pts(macdDif), borderColor: "#e4644f", borderWidth: 1.1, pointRadius: 0, clip: false, order: 0 }
    ]
  },
  options: {
    layout: { padding: 0 },
    plugins: { legend: { display: false }, tooltip: { enabled: false } },
    scales: {
      x: {
        type: "linear",
        offset: false,
        bounds: "data",
        min: xMin,
        max: xMax,
        grid: { display: false, drawTicks: false },
        border: { display: false },
        afterBuildTicks: (s) => { s.ticks = dateBars.map((v) => ({ value: v })); },
        afterFit: (s) => { s.height = 30; },
        ticks: {
          autoSkip: false,
          maxRotation: 0,
          padding: 6,
          color: "#8a8f9c",
          font: { size: 13.5 },
          callback: (v, i) => dateLabels[i]
        }
      },
      y: {
        type: "linear",
        position: "right",
        min: -37.7,
        max: 40.7,
        grid: { display: false, drawTicks: false },
        border: { display: false },
        afterBuildTicks: (s) => { s.ticks = macdTicks.map((v) => ({ value: v })); },
        afterFit: (s) => { s.width = 0; s.paddingTop = 0; s.paddingBottom = 0; },
        ticks: {
          mirror: true,
          padding: -8,
          color: "#8a8f9c",
          font: { size: 14 },
          callback: (v) => v.toFixed(5)
        }
      }
    }
  }
});
</script>
</body>
</html>
